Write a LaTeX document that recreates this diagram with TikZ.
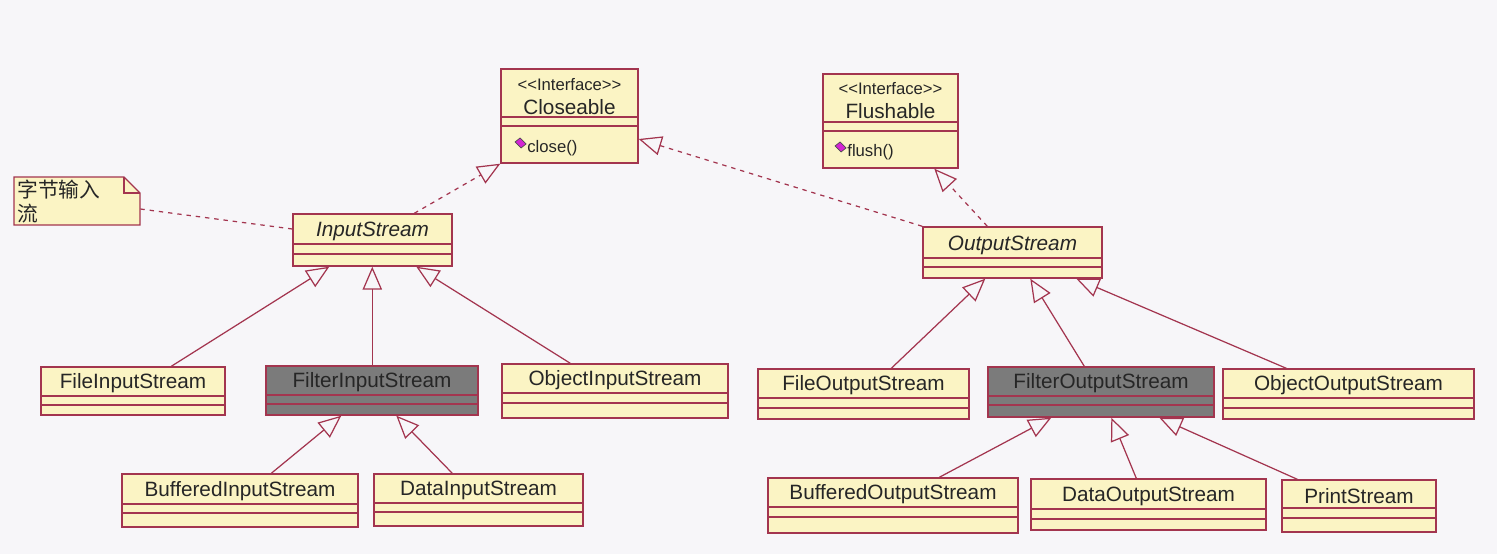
\documentclass[tikz,border=0pt]{standalone}
\usepackage{fontspec}
\setmainfont{Liberation Sans}
\newfontfamily\cjk{Noto Sans CJK SC}
\usetikzlibrary{arrows.meta}
\usetikzlibrary{fit}
\usetikzlibrary{calc}
\definecolor{bgcol}{HTML}{F7F6F9}
\definecolor{umlfill}{HTML}{FBF4C4}
\definecolor{umlgray}{HTML}{7B7B7B}
\definecolor{umlred}{HTML}{A3354F}
\definecolor{umltext}{HTML}{262626}
\definecolor{opmag}{HTML}{D425D4}

\begin{document}
\begin{tikzpicture}[x=0.02cm,y=-0.02cm,
  cls/.style={draw=umlred,fill=umlfill,line width=0.8pt,inner sep=0pt},
  clsgray/.style={cls,fill=umlgray},
  sep/.style={draw=umlred,line width=0.8pt},
  lbl/.style={font=\fontsize{11.8}{14}\selectfont,text=umltext,inner sep=0pt,yshift=-1.2pt},
  small/.style={font=\fontsize{9.5}{11}\selectfont,text=umltext,inner sep=0pt},
  inh/.style={draw=umlred,line width=0.7pt,-{Triangle[open,length=13pt,width=11pt]}},
  impl/.style={inh,dash pattern=on 2.5pt off 2.8pt}]
\fill[bgcol] (0,0) rectangle (1497,554);
\useasboundingbox (0,0) rectangle (1497,554);

% interfaces
\node[cls,fit={(501,69) (638,163)}] (clo) {};
\draw[sep] (501,117) -- (638,117) (501,126) -- (638,126);
\node[small] (clo-st) at (569.5,85) {{<}{<}Interface{>}{>}};
\node[lbl] (clo-t) at (569.5,105) {Closeable};
\filldraw[fill=opmag,draw=black!70,line width=0.4pt] (515,142) -- (520,138) -- (526,144) -- (521,148) -- cycle;
\node[small,anchor=west] (clo-op) at (527,148) {close()};

\node[cls,fit={(823,74) (958,168)}] (flu) {};
\draw[sep] (823,122) -- (958,122) (823,131) -- (958,131);
\node[small] (flu-st) at (890.5,89) {{<}{<}Interface{>}{>}};
\node[lbl] (flu-t) at (890.5,109) {Flushable};
\filldraw[fill=opmag,draw=black!70,line width=0.4pt] (835,146) -- (840,142) -- (846,148) -- (841,152) -- cycle;
\node[small,anchor=west] (flu-op) at (847,152) {flush()};

% abstract classes
\node[cls,fit={(293,214) (452,266)}] (ins) {};
\draw[sep] (293,244) -- (452,244) (293,254) -- (452,254);
\node[lbl,font=\fontsize{11.8}{14}\selectfont\itshape] (ins-t) at (372.5,229) {InputStream};

\node[cls,fit={(923,227) (1102,278)}] (outs) {};
\draw[sep] (923,258) -- (1102,258) (923,267) -- (1102,267);
\node[lbl,font=\fontsize{11.8}{14}\selectfont\itshape] (outs-t) at (1012.5,243) {OutputStream};

% note
\node[fit={(14,177) (140,225)},inner sep=0pt] (note) {};
\filldraw[fill=umlfill,draw=umlred,line width=0.8pt] (14,177) -- (124,177) -- (140,193) -- (140,225) -- (14,225) -- cycle;
\draw[umlred,line width=0.8pt] (124,177) -- (124,193) -- (140,193);
\node[anchor=north west,inner sep=0pt,align=left,text=umltext,font=\cjk\fontsize{11.8}{13.2}\selectfont] (note-t) at (17,180) {字节输入\\流};

% input side
\node[cls,fit={(41,367) (225,415)}] (fis) {};
\draw[sep] (41,396) -- (225,396) (41,405) -- (225,405);
\node[lbl] (fis-t) at (133,381.5) {FileInputStream};

\node[clsgray,fit={(266,366) (478,415)}] (filis) {};
\draw[sep] (266,395) -- (478,395) (266,404) -- (478,404);
\node[lbl] (filis-t) at (372,380.5) {FilterInputStream};

\node[cls,fit={(502,364) (728,418)}] (ois) {};
\draw[sep] (502,393) -- (728,393) (502,403) -- (728,403);
\node[lbl] (ois-t) at (615,378.5) {ObjectInputStream};

\node[cls,fit={(122,474) (358,527)}] (bis) {};
\draw[sep] (122,504) -- (358,504) (122,513) -- (358,513);
\node[lbl] (bis-t) at (240,489) {BufferedInputStream};

\node[cls,fit={(374,474) (583,526)}] (dis) {};
\draw[sep] (374,503) -- (583,503) (374,512) -- (583,512);
\node[lbl] (dis-t) at (478.5,488.5) {DataInputStream};

% output side
\node[cls,fit={(758,369) (969,419)}] (fos) {};
\draw[sep] (758,398) -- (969,398) (758,408) -- (969,408);
\node[lbl] (fos-t) at (863.5,383.5) {FileOutputStream};

\node[clsgray,fit={(988,367) (1214,417)}] (filos) {};
\draw[sep] (988,396) -- (1214,396) (988,405) -- (1214,405);
\node[lbl] (filos-t) at (1101,381.5) {FilterOutputStream};

\node[cls,fit={(1223,369) (1474,419)}] (oos) {};
\draw[sep] (1223,398) -- (1474,398) (1223,408) -- (1474,408);
\node[lbl] (oos-t) at (1348.5,383.5) {ObjectOutputStream};

\node[cls,fit={(768,478) (1018,533)}] (bos) {};
\draw[sep] (768,507) -- (1018,507) (768,517) -- (1018,517);
\node[lbl] (bos-t) at (893,492.5) {BufferedOutputStream};

\node[cls,fit={(1031,479) (1266,530)}] (dos) {};
\draw[sep] (1031,509) -- (1266,509) (1031,519) -- (1266,519);
\node[lbl] (dos-t) at (1148.5,494) {DataOutputStream};

\node[cls,fit={(1282,480) (1436,532)}] (ps) {};
\draw[sep] (1282,508) -- (1436,508) (1282,518) -- (1436,518);
\node[lbl] (ps-t) at (1359,494) {PrintStream};

% realizations
\draw[impl] ($(ins.north west)+(122,0)$) -- (clo.south west);
\draw[impl] (outs.north west) -- ($(clo.east)+(0,23)$);
\draw[impl] ($(outs.north west)+(65,0)$) -- ($(flu.south west)+(112,0)$);
\draw[umlred,line width=0.7pt,dash pattern=on 2.5pt off 2.8pt] ($(note.east)+(0,8)$) -- ($(ins.west)+(0,-11)$);

% generalizations
\draw[inh] ($(fis.north west)+(131,0)$) -- ($(ins.south west)+(37,0)$);
\draw[inh] ($(filis.north west)+(107,0)$) -- ($(ins.south west)+(80,0)$);
\draw[inh] ($(ois.north west)+(69,0)$) -- ($(ins.south west)+(124,0)$);
\draw[inh] ($(bis.north west)+(150,0)$) -- ($(filis.south west)+(76,0)$);
\draw[inh] ($(dis.north west)+(79,0)$) -- ($(filis.south west)+(131,0)$);
\draw[inh] ($(fos.north west)+(134,0)$) -- ($(outs.south west)+(63,0)$);
\draw[inh] ($(filos.north west)+(97,0)$) -- ($(outs.south west)+(108,0)$);
\draw[inh] ($(oos.north west)+(64,0)$) -- ($(outs.south west)+(154,0)$);
\draw[inh] ($(bos.north west)+(172,0)$) -- ($(filos.south west)+(64,0)$);
\draw[inh] ($(dos.north west)+(106,0)$) -- ($(filos.south west)+(124,0)$);
\draw[inh] ($(ps.north west)+(16,0)$) -- ($(filos.south west)+(172,0)$);
\end{tikzpicture}
\end{document}
